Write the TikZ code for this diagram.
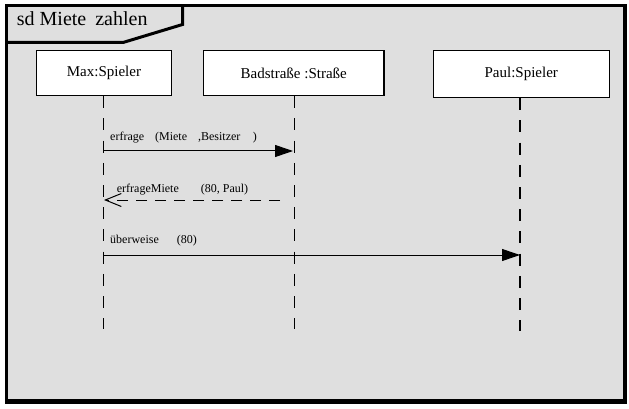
\documentclass[tikz,border=0pt]{standalone}
\usepackage{fontspec}
\setmainfont{Liberation Serif}
\usetikzlibrary{arrows.meta}
\definecolor{framegray}{HTML}{DFDFDF}
\begin{document}
\begin{tikzpicture}[x=1pt,y=-1pt,
  lifebox/.style={draw, fill=white, line width=1.2pt, inner sep=0pt, anchor=north west,
    font=\fontsize{15}{18}\selectfont},
  lifeline/.style={line width=1.2pt, dash pattern=on 12pt off 10.2pt},
  msglabel/.style={anchor=base west, inner sep=0pt, font=\fontsize{12}{14}\selectfont},
  callmsg/.style={line width=1pt, -{Triangle[length=18pt,width=12pt]}},
  retmsg/.style={line width=1pt, dash pattern=on 11pt off 8pt, -{Straight Barb[length=16pt,width=13pt,line width=1pt]}}
]
\useasboundingbox (0,0) rectangle (629,409);
% frame with shadow
\fill[black] (4.5,4) rectangle (627,404);
\fill[framegray] (8,7.5) rectangle (622.5,399);
% title pentagon
\draw[line width=3pt, line join=miter] (182.5,6) -- (182.5,24.5) -- (123,42.5) -- (6.5,42.5);
\node[anchor=base west, inner sep=0pt, font=\fontsize{20}{22}\selectfont] (title) at (16.7,26)
  {sd\hspace{5pt}Miete\hspace{9pt}zahlen};
% lifeline heads
\node[lifebox, minimum width=134.7pt, minimum height=45pt] (max) at (36,50) {Max:Spieler};
\node[lifebox, minimum width=180.3pt, minimum height=45pt] (bad) at (203,50) {Badstraße :Straße};
\node[lifebox, minimum width=176pt, minimum height=47pt] (paul) at (432.7,50) {Paul:Spieler};
% lifeline ends
\coordinate (maxend) at (103.3,329);
\coordinate (badend) at (294.5,329);
\coordinate (paulend) at (520,331);
\draw[lifeline] (max.south -| maxend) -- (maxend);
\draw[lifeline] (bad.south -| badend) -- (badend);
\draw[lifeline] (paul.south -| paulend) -- (paulend);
% message points
\coordinate (m1s) at (103.3,151);
\coordinate (m1e) at (293,151);
\coordinate (m2s) at (280,200);
\coordinate (m2e) at (104,200);
\coordinate (m3s) at (103.3,255);
\coordinate (m3e) at (520,255);
\draw[callmsg] (m1s) -- (m1e);
\draw[retmsg] (m2s) -- (m2e);
\draw[callmsg] (m3s) -- (m3e);
\node[msglabel] (l1) at (110,140.7) {erfrage\hspace{11pt}(Miete\hspace{11pt},Besitzer\hspace{12.5pt})};
\node[msglabel] (l2) at (116.7,192.7) {erfrageMiete\hspace{22pt}(80, Paul)};
\node[msglabel] (l3) at (110,243.3) {überweise\hspace{18pt}(80)};
\end{tikzpicture}
\end{document}
